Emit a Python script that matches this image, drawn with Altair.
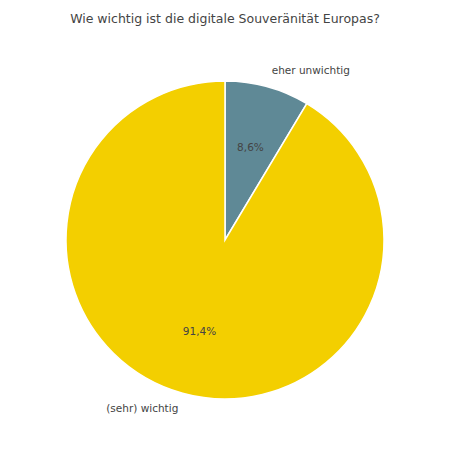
import altair as alt
import pandas as pd

categories = ["eher unwichtig", "(sehr) wichtig"]
values = [8.6, 91.4]
pct_labels = ["8,6%", "91,4%"]
order = [0, 1]
label_left = ["eher unwichtig", ""]
label_right = ["", "(sehr) wichtig"]
colors = ["#5f8996", "#f3cf00"]

df = pd.DataFrame({
    "cat": categories,
    "value": values,
    "pct": pct_labels,
    "ord": order,
    "lab_l": label_left,
    "lab_r": label_right,
})

CX, CY = 217, 201
R = 159
FONT = "DejaVu Sans"

base = alt.Chart(df).encode(
    theta=alt.Theta("value:Q", stack=True),
    order=alt.Order("ord:Q"),
    x=alt.value(CX),
    y=alt.value(CY),
)

arcs = base.mark_arc(outerRadius=R, stroke="white", strokeWidth=1.5).encode(
    color=alt.Color("cat:N", scale=alt.Scale(domain=categories, range=colors), legend=None)
)

pct = base.mark_text(radius=R * 0.6, font=FONT, fontSize=10.5, color="#444444",
                     baseline="middle", align="center").encode(text="pct:N")

lab_l = base.mark_text(radius=R * 1.1, font=FONT, fontSize=10.5, color="#444444",
                       baseline="middle", align="left").encode(text="lab_l:N")
lab_r = base.mark_text(radius=R * 1.1, font=FONT, fontSize=10.5, color="#444444",
                       baseline="middle", align="right").encode(text="lab_r:N")

chart = alt.layer(arcs, pct, lab_l, lab_r).properties(
    width=434,
    height=400,
    padding={"top": 4, "left": 0, "right": 0, "bottom": 0},
    title=alt.TitleParams(
        "Wie wichtig ist die digitale Souveränität Europas?",
        font=FONT, fontSize=12.5, fontWeight="normal", color="#444444",
        anchor="middle", offset=14,
    ),
).configure_view(stroke=None)

chart.save("out.html", embed_options={"renderer": "svg", "actions": False})
